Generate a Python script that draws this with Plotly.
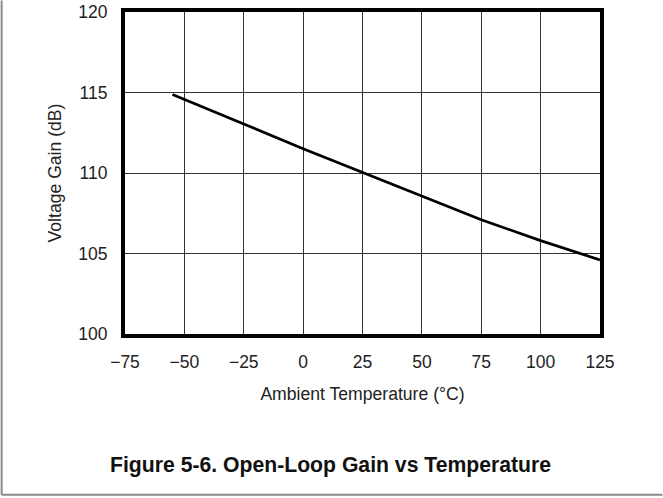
import plotly.graph_objects as go

temperature_c = [-55, -50, -25, 0, 25, 50, 75, 100, 125]
gain_db = [114.87, 114.57, 113.05, 111.5, 110.05, 108.55, 107.1, 105.8, 104.6]

x_ticks = [-75, -50, -25, 0, 25, 50, 75, 100, 125]
x_tick_text = ["\u221275", "\u221250", "\u221225", "0", "25", "50", "75", "100", "125"]
y_ticks = [100, 105, 110, 115, 120]
y_tick_text = ["100", "105", "110", "115", "120"]

W, H = 663, 498
L, R, T, B = 125, 62.5, 11.5, 164
pw = W - L - R
ph = H - T - B

fig = go.Figure()
fig.add_trace(go.Scatter(x=temperature_c, y=gain_db, mode="lines",
                         line=dict(color="black", width=2.7), showlegend=False,
                         hoverinfo="skip"))

tick_font = dict(family="Liberation Sans, Arial, sans-serif", size=17.5, color="#222")
title_font = dict(family="Liberation Sans, Arial, sans-serif", size=17.6, color="#222")

fig.update_layout(
    width=W, height=H, autosize=False,
    margin=dict(l=L, r=R, t=T, b=B, pad=0),
    paper_bgcolor="white", plot_bgcolor="white",
    font=tick_font,
    xaxis=dict(range=[-75, 125], tickvals=x_ticks, ticktext=x_tick_text,
               showgrid=True, gridcolor="#333", gridwidth=1,
               showline=True, linecolor="black", linewidth=4, mirror=True,
               ticks="outside", ticklen=9, tickcolor="rgba(0,0,0,0)",
               zeroline=False, automargin=False, tickfont=tick_font,
               title=dict(text="Ambient Temperature (\u00b0C)", standoff=18, font=title_font)),
    yaxis=dict(range=[100, 120], tickvals=y_ticks, ticktext=y_tick_text,
               showgrid=True, gridcolor="#333", gridwidth=1,
               showline=True, linecolor="black", linewidth=4, mirror=True,
               ticks="outside", ticklen=10, tickcolor="rgba(0,0,0,0)",
               zeroline=False, automargin=False, tickfont=tick_font,
               title=dict(text="Voltage Gain (dB)", standoff=13, font=title_font)),
)

# outer gray frame (left and bottom edges)
x_left = (1.5 - L) / pw
x_right = (W - L) / pw
y_bottom = (H - B - 495) / ph
y_top = (H - B) / ph
fig.add_shape(type="line", xref="paper", yref="paper", x0=x_left, x1=x_left,
              y0=y_bottom, y1=y_top, line=dict(color="#8a8a8a", width=2))
fig.add_shape(type="line", xref="paper", yref="paper", x0=x_left, x1=x_right,
              y0=y_bottom, y1=y_bottom, line=dict(color="#8a8a8a", width=2))

fig.add_annotation(text="<b>Figure 5-6. Open-Loop Gain vs Temperature</b>",
                   xref="paper", yref="paper",
                   x=(331 - L) / pw, y=(H - B - 465) / ph,
                   showarrow=False, xanchor="center", yanchor="middle",
                   font=dict(family="Liberation Sans, Arial, sans-serif", size=21.2, color="#111"))

fig.write_html("out.html", config={"displayModeBar": False},
               post_script="document.body.style.margin='0';")
